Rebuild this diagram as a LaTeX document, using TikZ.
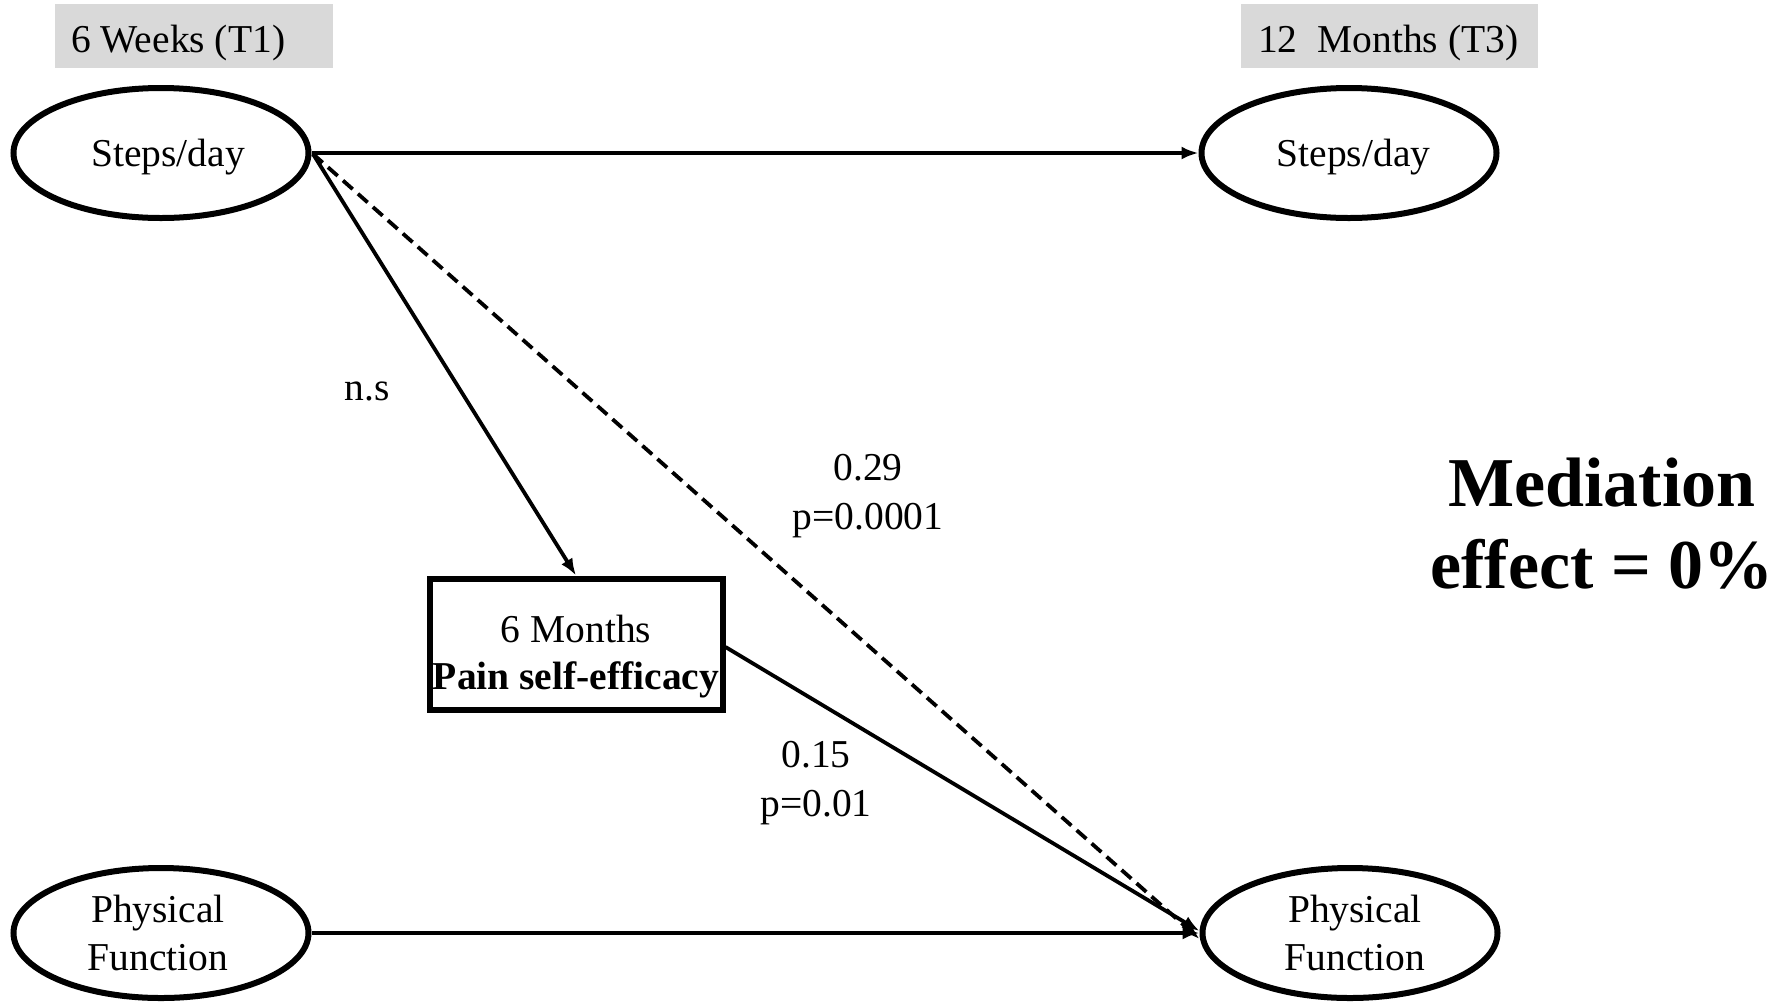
\documentclass[tikz,border=0pt]{standalone}
\usepackage{fontspec}
\setmainfont{Liberation Serif}
\usetikzlibrary{shapes.geometric,arrows.meta}
\tikzset{
  txt/.style={font=\fontsize{39.5}{47.5}\selectfont, align=center, inner sep=0pt},
  var/.style={ellipse, draw, line width=6pt, minimum width=295pt, minimum height=130pt, inner sep=0pt},
  medbox/.style={rectangle, draw, line width=6pt, minimum width=293pt, minimum height=131pt, inner sep=0pt},
  timebox/.style={rectangle, fill=black!15, inner sep=0pt},
  path/.style={line width=3.8pt, -{Latex[length=17pt,width=13pt]}},
  lbl/.style={txt, font=\fontsize{39.5}{49}\selectfont}
}
\begin{document}
\begin{tikzpicture}[x=1pt,y=-1pt]
\useasboundingbox (0,0) rectangle (1780,1005);

% time headers
\node[timebox, minimum width=278pt, minimum height=64pt] (hT1) at (194,36) {};
\node[txt, anchor=west] (tT1) at (71,42.5) {6 Weeks (T1)};
\node[timebox, minimum width=297pt, minimum height=64pt] (hT3) at (1389,36) {};
\node[txt, anchor=west] (tT3) at (1258,42.5) {12\ \ Months (T3)};

% variables (outlines)
\node[var] (s1) at (161,153) {};
\node[var] (s3) at (1349,153) {};
\node[var] (pf1) at (161,933) {};
\node[var] (pf3) at (1350,933) {};
\node[medbox] (pse) at (576,644) {};

% variable names
\node[txt] (s1t) at (168,157.5) {Steps/day};
\node[txt] (s3t) at (1353.5,157.5) {Steps/day};
\node[txt] (pf1t) at (158,933) {Physical\\Function};
\node[txt] (pf3t) at (1355,933) {Physical\\Function};
\node[txt] (pset) at (576,656.5) {6 Months\\\textbf{Pain self-efficacy}};

% connectors
\coordinate (s1out) at (313,154);
\draw[path] (s1.east) -- (s3.west);
\draw[path] (s1out) -- (pse.north);
\draw[path, dashed, dash pattern=on 13pt off 7pt] (s1out) -- ([yshift=-6pt]pf3.west);
\draw[path] (pse.east |- 0,647) -- ([yshift=2pt]pf3.west);
\draw[path] (pf1.east) -- (pf3.west);

% path labels
\node[lbl] (ns) at (367,391) {n.s};
\node[lbl] (c29) at (868,496) {0.29\\p=0.0001};
\node[lbl] (c15) at (816,783) {0.15\\p=0.01};

% summary
\node[txt, font=\bfseries\fontsize{70}{82}\selectfont] (med) at (1602,524) {Mediation\\effect = 0\%};
\end{tikzpicture}
\end{document}
